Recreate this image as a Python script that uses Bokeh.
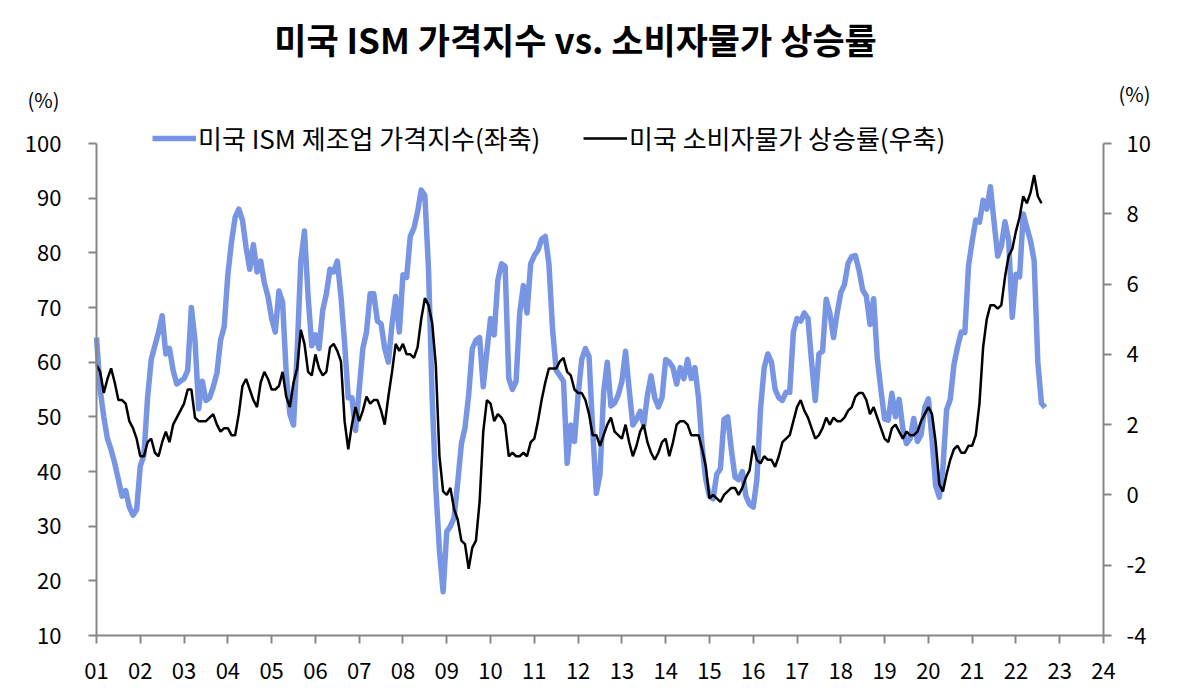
import pandas as pd
from bokeh.plotting import figure
from bokeh.models import Range1d, LinearAxis, FixedTicker, Legend, LegendItem, Label
from bokeh.core.properties import value
from bokeh.embed import file_html
from bokeh.resources import INLINE

FONT = "Noto Sans CJK KR"

title_text = "미국 ISM 가격지수 vs. 소비자물가 상승률"
ism_name = "미국 ISM 제조업 가격지수(좌축)"
cpi_name = "미국 소비자물가 상승률(우축)"
unit_text = "(%)"

# ISM 제조업 가격지수, monthly from 2001.01
ism = [
    64.5, 55.0, 50.0, 46.0, 44.0, 41.5, 38.5, 35.5, 36.5, 33.5, 32.0, 33.0,  # 01
    41.0, 43.0, 53.5, 60.5, 63.0, 65.5, 68.5, 61.5, 62.5, 58.5, 56.0, 56.5,  # 02
    57.0, 58.5, 70.0, 64.0, 51.5, 56.5, 53.0, 53.5, 55.5, 58.0, 64.0, 66.5,  # 03
    76.0, 82.0, 86.5, 88.0, 86.0, 81.0, 77.0, 81.5, 76.5, 78.5, 74.5, 72.0,  # 04
    68.0, 65.5, 73.0, 71.0, 58.0, 50.5, 48.5, 62.0, 78.5, 84.0, 72.0, 63.0,  # 05
    65.0, 62.5, 69.5, 72.5, 77.0, 76.5, 78.5, 72.0, 63.5, 53.5, 53.5, 47.5,  # 06
    55.0, 62.5, 65.5, 72.5, 72.5, 67.5, 67.0, 62.5, 60.0, 67.0, 72.0, 65.5,  # 07
    76.0, 75.5, 83.0, 84.5, 87.5, 91.5, 90.5, 77.0, 53.5, 37.0, 25.5, 18.0,  # 08
    29.0, 30.0, 31.5, 38.0, 45.0, 48.0, 54.0, 62.5, 64.0, 64.5, 55.5, 62.0,  # 09
    68.0, 65.0, 75.0, 78.0, 77.5, 57.0, 55.0, 56.5, 69.0, 74.0, 69.0, 78.0,  # 10
    79.5, 80.5, 82.5, 83.0, 78.0, 66.0, 58.5, 57.5, 56.5, 41.5, 48.5, 45.5,  # 11
    54.0, 60.5, 62.5, 61.0, 47.5, 36.0, 39.5, 54.5, 60.0, 52.0, 52.5, 54.0,  # 12
    56.5, 62.0, 55.0, 48.5, 49.5, 51.0, 48.5, 54.0, 57.5, 53.5, 51.8, 53.5,  # 13
    60.5, 60.0, 59.0, 56.0, 59.0, 57.0, 60.5, 57.0, 59.0, 53.5, 44.5, 38.5,  # 14
    35.5, 35.0, 39.5, 40.5, 49.5, 50.0, 44.0, 39.0, 38.5, 40.0, 35.5, 34.0,  # 15
    33.5, 38.5, 51.5, 59.0, 61.5, 60.0, 55.0, 53.5, 53.0, 54.5, 54.5, 65.5,  # 16
    68.0, 67.5, 69.0, 68.0, 60.0, 53.0, 61.5, 62.0, 71.5, 69.0, 64.5, 69.0,  # 17
    72.7, 74.2, 78.1, 79.3, 79.5, 76.8, 73.2, 72.1, 66.9, 71.6, 60.7, 54.9,  # 18
    49.6, 49.4, 54.3, 50.0, 53.2, 47.9, 45.1, 46.0, 49.7, 45.5, 46.7, 51.7,  # 19
    53.3, 45.9, 37.4, 35.3, 40.8, 51.3, 53.2, 59.5, 62.8, 65.5, 65.4, 77.6,  # 20
    82.1, 86.0, 85.6, 89.6, 88.0, 92.1, 85.7, 79.4, 81.2, 85.7, 82.4, 68.2,  # 21
    76.1, 75.6, 87.1, 84.6, 82.2, 78.5, 60.0, 52.5, 51.7,                    # 22
]

# 미국 소비자물가 상승률 (YoY, %), monthly from 2001.01
cpi = [
    3.7, 3.5, 2.9, 3.3, 3.6, 3.2, 2.7, 2.7, 2.6, 2.1, 1.9, 1.6,  # 01
    1.1, 1.1, 1.5, 1.6, 1.2, 1.1, 1.5, 1.8, 1.5, 2.0, 2.2, 2.4,  # 02
    2.6, 3.0, 3.0, 2.2, 2.1, 2.1, 2.1, 2.2, 2.3, 2.0, 1.8, 1.9,  # 03
    1.9, 1.7, 1.7, 2.3, 3.1, 3.3, 3.0, 2.7, 2.5, 3.2, 3.5, 3.3,  # 04
    3.0, 3.0, 3.1, 3.5, 2.8, 2.5, 3.2, 3.6, 4.7, 4.3, 3.5, 3.4,  # 05
    4.0, 3.6, 3.4, 3.5, 4.2, 4.3, 4.1, 3.8, 2.1, 1.3, 2.0, 2.5,  # 06
    2.1, 2.4, 2.8, 2.6, 2.7, 2.7, 2.4, 2.0, 2.8, 3.5, 4.3, 4.1,  # 07
    4.3, 4.0, 4.0, 3.9, 4.2, 5.0, 5.6, 5.4, 4.9, 3.7, 1.1, 0.1,  # 08
    0.0, 0.2, -0.4, -0.7, -1.3, -1.4, -2.1, -1.5, -1.3, -0.2, 1.8, 2.7,  # 09
    2.6, 2.1, 2.3, 2.2, 2.0, 1.1, 1.2, 1.1, 1.1, 1.2, 1.1, 1.5,  # 10
    1.6, 2.1, 2.7, 3.2, 3.6, 3.6, 3.6, 3.8, 3.9, 3.5, 3.4, 3.0,  # 11
    2.9, 2.9, 2.7, 2.3, 1.7, 1.7, 1.4, 1.7, 2.0, 2.2, 1.8, 1.7,  # 12
    1.6, 2.0, 1.5, 1.1, 1.4, 1.8, 2.0, 1.5, 1.2, 1.0, 1.2, 1.5,  # 13
    1.6, 1.1, 1.5, 2.0, 2.1, 2.1, 2.0, 1.7, 1.7, 1.7, 1.3, 0.8,  # 14
    -0.1, 0.0, -0.1, -0.2, 0.0, 0.1, 0.2, 0.2, 0.0, 0.2, 0.5, 0.7,  # 15
    1.4, 1.0, 0.9, 1.1, 1.0, 1.0, 0.8, 1.1, 1.5, 1.6, 1.7, 2.1,  # 16
    2.5, 2.7, 2.4, 2.2, 1.9, 1.6, 1.7, 1.9, 2.2, 2.0, 2.2, 2.1,  # 17
    2.1, 2.2, 2.4, 2.5, 2.8, 2.9, 2.9, 2.7, 2.3, 2.5, 2.2, 1.9,  # 18
    1.6, 1.5, 1.9, 2.0, 1.8, 1.6, 1.8, 1.7, 1.7, 1.8, 2.1, 2.3,  # 19
    2.5, 2.3, 1.5, 0.3, 0.1, 0.6, 1.0, 1.3, 1.4, 1.2, 1.2, 1.4,  # 20
    1.4, 1.7, 2.6, 4.2, 5.0, 5.4, 5.4, 5.3, 5.4, 6.2, 6.8, 7.0,  # 21
    7.5, 7.9, 8.5, 8.3, 8.6, 9.1, 8.5, 8.3,                      # 22
]

year_ticks = list(range(2001, 2025))
year_labels = ["01", "02", "03", "04", "05", "06", "07", "08", "09", "10", "11", "12",
               "13", "14", "15", "16", "17", "18", "19", "20", "21", "22", "23", "24"]
left_ticks = [10, 20, 30, 40, 50, 60, 70, 80, 90, 100]
right_ticks = [-4, -2, 0, 2, 4, 6, 8, 10]
right_labels = ["-4", "-2", "0", "2", "4", "6", "8", "10"]


def month_x(n):
    # month index -> fractional year on the x axis
    dates = pd.date_range("2001-01-01", periods=n, freq="MS")
    return list(dates.year + (dates.month - 1) / 12)


W, H = 1173, 689
# plot box inside the page: x 96..1103, y 143..635
BOX_L, BOX_R, BOX_T, BOX_B = 96, 1103, 143, 635


def stretch(lo, hi, a, b, size):
    # extend a data range [lo, hi] that spans pixels a..b to cover 0..size
    k = (hi - lo) / (b - a)
    return lo - a * k, hi + (size - b) * k


x_lo, x_hi = stretch(2001, 2024, BOX_L, BOX_R, W)
y_hi, y_lo = stretch(100, 10, BOX_T, BOX_B, H)
c_hi, c_lo = stretch(10, -4, BOX_T, BOX_B, H)

AXIS_COLOR = "#868686"

p = figure(width=W, height=H, x_range=Range1d(x_lo, x_hi), y_range=Range1d(y_lo, y_hi),
           output_backend="svg", toolbar_location=None,
           min_border=0)
p.extra_y_ranges = {"cpi": Range1d(c_lo, c_hi)}
p.outline_line_color = None
p.xgrid.visible = False
p.ygrid.visible = False

r_ism = p.line(month_x(len(ism)), ism, line_color="#7795E3", line_width=5.5, line_join="round")
r_cpi = p.line(month_x(len(cpi)), cpi, line_color="black", line_width=2.5, y_range_name="cpi")

right_axis = LinearAxis(y_range_name="cpi")
p.add_layout(right_axis, "right")

xax = p.xaxis[0]
yax = p.yaxis[0]

xax.ticker = FixedTicker(ticks=year_ticks)
xax.major_label_overrides = {t: lab for t, lab in zip(year_ticks, year_labels)}
xax.bounds = (2001, 2024)
xax.fixed_location = 10

yax.ticker = FixedTicker(ticks=left_ticks)
yax.bounds = (10, 100)
yax.fixed_location = 2001

right_axis.ticker = FixedTicker(ticks=right_ticks)
right_axis.major_label_overrides = {t: lab for t, lab in zip(right_ticks, right_labels)}
right_axis.bounds = (-4, 10)
right_axis.fixed_location = 2024

for ax in [xax, yax, right_axis]:
    ax.axis_line_color = AXIS_COLOR
    ax.axis_line_width = 2
    ax.major_tick_line_color = AXIS_COLOR
    ax.major_tick_line_width = 2
    ax.major_tick_in = 0
    ax.major_tick_out = 8
    ax.minor_tick_line_color = None
    ax.major_label_text_font = FONT
    ax.major_label_text_font_size = "22px"
    ax.major_label_text_color = "black"

xax.major_label_standoff = 19
yax.major_label_standoff = 27
right_axis.major_label_standoff = 15


def screen_label(px, py, text, size, bold=False):
    # page pixel position (from top-left) -> frame screen units (from bottom-left)
    return Label(x=px, y=H - py, x_units="screen", y_units="screen", text=text,
                 text_align="center", text_baseline="middle", text_font=FONT,
                 text_color="black",
                 text_font_style="bold" if bold else "normal", text_font_size=size)


p.add_layout(screen_label(575, 38, title_text, "35px", bold=True))
p.add_layout(screen_label(43, 99, unit_text, "20px"))
p.add_layout(screen_label(1134, 93, unit_text, "20px"))

for item, x0 in [(LegendItem(label=value(ism_name), renderers=[r_ism]), 152),
                 (LegendItem(label=value(cpi_name), renderers=[r_cpi]), 583)]:
    leg = Legend(items=[item], location=(x0, H - 137 - 19), orientation="horizontal",
                 border_line_color=None, background_fill_alpha=0, padding=0, margin=0,
                 glyph_width=44, glyph_height=20, label_standoff=2,
                 label_text_font=FONT, label_text_font_size="26px",
                 label_text_color="black")
    p.add_layout(leg)

open("out.html", "w").write(file_html(p, INLINE))
